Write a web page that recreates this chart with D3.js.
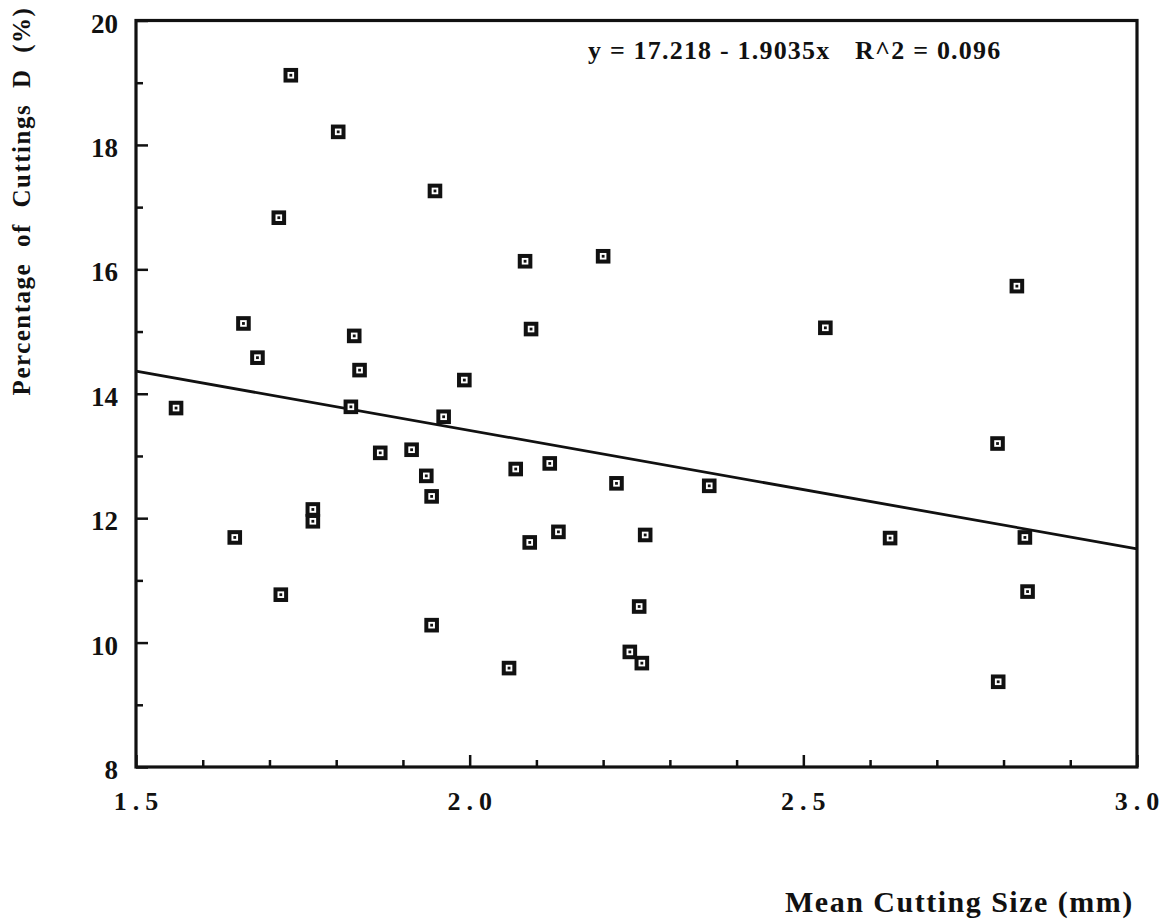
<!DOCTYPE html>
<html>
<head>
<meta charset="utf-8">
<script src="https://cdn.jsdelivr.net/npm/d3@7"></script>
<style>
  html, body { margin: 0; padding: 0; background: #fff; }
  svg { display: block; }
  text { font-family: "Liberation Serif", "Times New Roman", Times, serif; font-weight: bold; fill: #111; }
</style>
</head>
<body>
<svg id="chart" width="1168" height="922"></svg>
<script>
// Mean cutting size (mm) of each sample
const cuttingSize = [
  1.560, 1.648, 1.661, 1.682, 1.714, 1.717, 1.732, 1.765, 1.765, 1.803,
  1.822, 1.827, 1.835, 1.866, 1.913, 1.935, 1.943, 1.943, 1.948, 1.961,
  1.992, 2.059, 2.069, 2.083, 2.090, 2.092, 2.120, 2.133, 2.200, 2.220,
  2.240, 2.254, 2.258, 2.263, 2.359, 2.533, 2.630, 2.791, 2.792, 2.820,
  2.832, 2.836
];
// Percentage of cuttings in class D (%) for the same samples
const percentD = [
  13.77, 11.69, 15.13, 14.58, 16.83, 10.77, 19.12, 12.14, 11.95, 18.21,
  13.79, 14.93, 14.38, 13.05, 13.10, 12.68, 12.35, 10.28, 17.26, 13.63,
  14.22,  9.59, 12.79, 16.13, 11.61, 15.04, 12.88, 11.78, 16.21, 12.56,
   9.85, 10.58,  9.67, 11.73, 12.52, 15.06, 11.68, 13.20,  9.37, 15.73,
  11.69, 10.82
];
// Least-squares fit: y = intercept + slope * x
const fitIntercept = 17.218;
const fitSlope = -1.9035;
const fitR2 = 0.096;

const xMajorTicks = [1.5, 2.0, 2.5, 3.0];
const xMinorTicks = [1.6, 1.7, 1.8, 1.9, 2.1, 2.2, 2.3, 2.4, 2.6, 2.7, 2.8, 2.9];
const yMajorTicks = [8, 10, 12, 14, 16, 18, 20];
const yMinorTicks = [9, 11, 13, 15, 17, 19];

const xTitle = "Mean Cutting Size (mm)";
const yTitle = "Percentage of Cuttings D (%)";

const svg = d3.select("#chart");
const ink = "#111";

const plot = { left: 136, right: 1137, top: 20.5, bottom: 767 };

const x = d3.scaleLinear().domain([1.5, 3.0]).range([plot.left, plot.right]);
const y = d3.scaleLinear().domain([8, 20]).range([plot.bottom, plot.top]);

// Inward ticks on the bottom and left axes
const gx = svg.append("g").attr("transform", `translate(0,${plot.bottom})`);
gx.call(d3.axisTop(x).tickValues(xMajorTicks).tickSize(12).tickFormat(""));
gx.append("g").call(d3.axisTop(x).tickValues(xMinorTicks).tickSize(7).tickFormat(""));
const gy = svg.append("g").attr("transform", `translate(${plot.left},0)`);
gy.call(d3.axisRight(y).tickValues(yMajorTicks).tickSize(12).tickFormat(""));
gy.append("g").call(d3.axisRight(y).tickValues(yMinorTicks).tickSize(7).tickFormat(""));
svg.selectAll(".domain").remove();
svg.selectAll(".tick line").attr("stroke", ink).attr("stroke-width", 2.5);

// Frame
svg.append("rect")
  .attr("x", plot.left).attr("y", plot.top)
  .attr("width", plot.right - plot.left).attr("height", plot.bottom - plot.top)
  .attr("fill", "none").attr("stroke", ink).attr("stroke-width", 3.2);

// Tick labels
svg.append("g").selectAll("text").data(yMajorTicks).join("text")
  .attr("x", 118).attr("y", d => y(d) + 12)
  .attr("text-anchor", "end")
  .style("font-size", "27px")
  .text(d => d);

svg.append("g").selectAll("text").data(xMajorTicks).join("text")
  .attr("x", d => x(d) + 3).attr("y", 810)
  .attr("text-anchor", "middle")
  .style("font-size", "26px")
  .style("letter-spacing", "6px")
  .text(d => d3.format(".1f")(d));

// Regression line
const fit = v => fitIntercept + fitSlope * v;
svg.append("line")
  .attr("x1", x(1.5)).attr("y1", y(fit(1.5)))
  .attr("x2", x(3.0)).attr("y2", y(fit(3.0)))
  .attr("stroke", ink).attr("stroke-width", 2.8);

// Square markers with a centre dot
const pts = cuttingSize.map((v, i) => [v, percentD[i]]);
const mk = svg.append("g").selectAll("g").data(pts).join("g")
  .attr("transform", d => `translate(${x(d[0])},${y(d[1])})`);
mk.append("rect")
  .attr("x", -5.3).attr("y", -5.3).attr("width", 10.6).attr("height", 10.6)
  .attr("fill", "#fff").attr("stroke", ink).attr("stroke-width", 4);
mk.append("rect")
  .attr("x", -1.4).attr("y", -1.4).attr("width", 2.8).attr("height", 2.8)
  .attr("fill", ink);

// Fit equation
svg.append("text")
  .attr("x", 588).attr("y", 59)
  .style("font-size", "26px").style("letter-spacing", "1.2px")
  .text(`y = ${fitIntercept} - ${Math.abs(fitSlope)}x`);
svg.append("text")
  .attr("x", 855).attr("y", 59)
  .style("font-size", "26px").style("letter-spacing", "1.2px")
  .text(`R^2 = ${fitR2}`);

// Axis titles
svg.append("text")
  .attr("x", 785).attr("y", 912)
  .style("font-size", "30px")
  .style("letter-spacing", "1.5px")
  .text(xTitle);

svg.append("text")
  .attr("transform", "translate(30,201) rotate(-90)")
  .attr("text-anchor", "middle")
  .style("font-size", "25px")
  .style("letter-spacing", "1.5px")
  .style("word-spacing", "8px")
  .text(yTitle);
</script>
</body>
</html>
